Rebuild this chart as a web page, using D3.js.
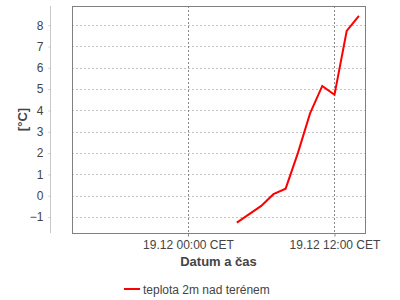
<!DOCTYPE html>
<html>
<head>
<meta charset="utf-8">
<script src="https://cdn.jsdelivr.net/npm/d3@7"></script>
<style>
  body { margin: 0; background: #fff; }
  text { font-family: 'Liberation Sans', Arial, sans-serif; }
</style>
</head>
<body>
<svg width="400" height="300"></svg>
<script>
// hours relative to 19.12 00:00 CET
const hours = [4, 6, 7, 8, 9, 10, 11, 12, 13, 14];
const temps = [-1.26, -0.48, 0.07, 0.33, 2.0, 3.86, 5.15, 4.73, 7.73, 8.44];
const yTicks = [-1, 0, 1, 2, 3, 4, 5, 6, 7, 8];
const xTickHours = [0, 12];
const seriesName = 'teplota 2m nad terénem';

const base = Date.UTC(2020, 11, 19, 0, 0);
const toDate = function (h) { return new Date(base + h * 3600 * 1000); };

const svg = d3.select('svg');
const plot = { left: 72, right: 365, top: 6, bottom: 233 };

const x = d3.scaleUtc()
  .domain([toDate(-9.5), toDate(14.5)])
  .range([plot.left, plot.right]);

const y = d3.scaleLinear()
  .domain([-1.75, 8.9])
  .range([plot.bottom, plot.top]);

// horizontal grid
svg.append('g')
  .selectAll('line')
  .data(yTicks)
  .enter()
  .append('line')
  .attr('x1', plot.left)
  .attr('x2', plot.right)
  .attr('y1', function (d) { return Math.round(y(d)) + 0.5; })
  .attr('y2', function (d) { return Math.round(y(d)) + 0.5; })
  .attr('stroke', '#c4c4c4')
  .attr('stroke-dasharray', '2,2');

// vertical grid
svg.append('g')
  .selectAll('line')
  .data(xTickHours)
  .enter()
  .append('line')
  .attr('x1', function (d) { return Math.round(x(toDate(d))) + 0.5; })
  .attr('x2', function (d) { return Math.round(x(toDate(d))) + 0.5; })
  .attr('y1', plot.top)
  .attr('y2', plot.bottom)
  .attr('stroke', '#888')
  .attr('stroke-dasharray', '2,2');

// plot border
svg.append('rect')
  .attr('x', plot.left + 0.5)
  .attr('y', plot.top + 0.5)
  .attr('width', plot.right - plot.left)
  .attr('height', plot.bottom - plot.top)
  .attr('fill', 'none')
  .attr('stroke', '#808080');

// y axis
const yAxis = svg.append('g')
  .attr('transform', 'translate(50.5,0)')
  .call(d3.axisLeft(y).tickValues(yTicks).tickSize(2).tickPadding(5));
yAxis.select('.domain')
  .attr('d', 'M0,' + plot.top + 'V' + plot.bottom)
  .attr('stroke', '#c8c8c8');
yAxis.selectAll('.tick line').attr('stroke', '#c8c8c8');
yAxis.selectAll('.tick text')
  .attr('fill', '#444')
  .style('font-size', '12px');

// x axis
const xAxis = svg.append('g')
  .attr('transform', 'translate(0,' + (plot.bottom + 0.5) + ')')
  .call(d3.axisBottom(x)
    .tickValues(xTickHours.map(toDate))
    .tickSize(3)
    .tickPadding(4)
    .tickFormat(function (d) { return d3.utcFormat('%d.%m %H:%M')(d) + ' CET'; }));
xAxis.select('.domain').remove();
xAxis.selectAll('.tick line').attr('stroke', '#888');
xAxis.selectAll('.tick text')
  .attr('fill', '#444')
  .style('font-size', '12px');

// axis titles
svg.append('text')
  .attr('transform', 'translate(27,119.5) rotate(-90)')
  .attr('text-anchor', 'middle')
  .attr('fill', '#444')
  .style('font-size', '13px')
  .style('font-weight', 'bold')
  .text('[°C]');

svg.append('text')
  .attr('x', (plot.left + plot.right) / 2)
  .attr('y', 266)
  .attr('text-anchor', 'middle')
  .attr('fill', '#444')
  .style('font-size', '13px')
  .style('font-weight', 'bold')
  .text('Datum a čas');

// series line
const line = d3.line()
  .x(function (d, i) { return x(toDate(hours[i])); })
  .y(function (d) { return y(d); });

svg.append('path')
  .datum(temps)
  .attr('d', line)
  .attr('fill', 'none')
  .attr('stroke', '#ff0000')
  .attr('stroke-width', 2);

// legend
const legend = svg.append('g').attr('transform', 'translate(124,289)');
legend.append('line')
  .attr('x1', 0)
  .attr('x2', 16)
  .attr('stroke', '#ff0000')
  .attr('stroke-width', 2);
legend.append('text')
  .attr('x', 19)
  .attr('y', 4.5)
  .attr('fill', '#444')
  .style('font-size', '12px')
  .text(seriesName);
</script>
</body>
</html>
